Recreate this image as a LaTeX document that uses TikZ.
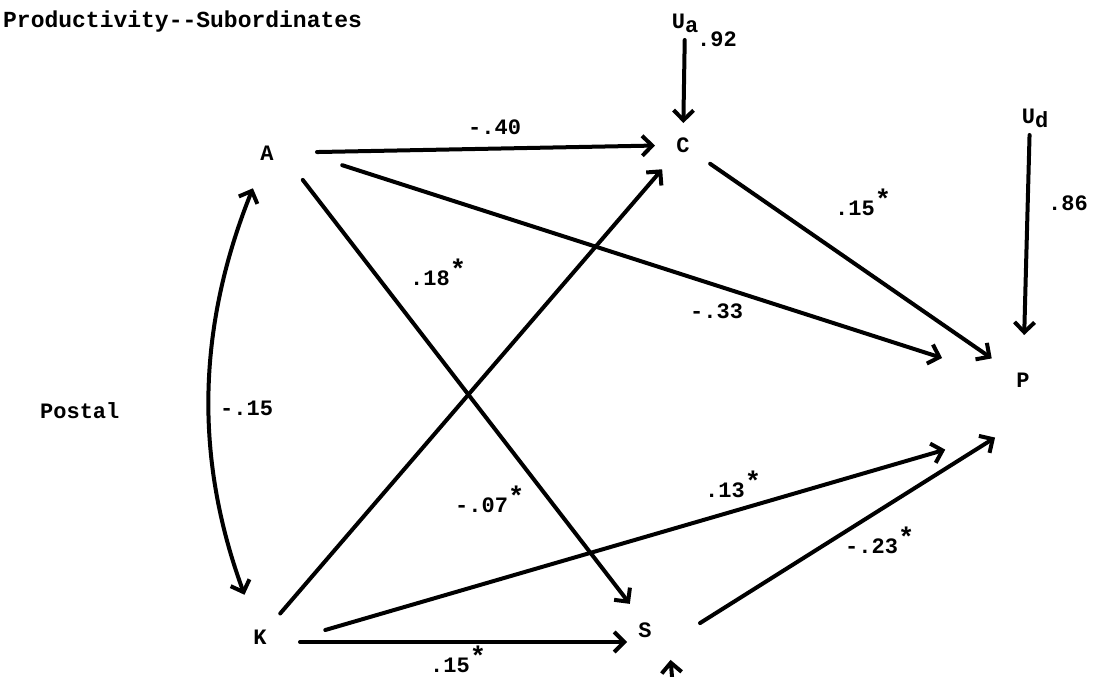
\documentclass[tikz,border=0pt]{standalone}
\usepackage{fontspec}
\setmonofont{Liberation Mono}
\usetikzlibrary{arrows.meta,calc}
\newcommand{\lblTitle}{Productivity--Subordinates}
\newcommand{\lblSample}{Postal}
\newcommand{\lblStar}{\raisebox{7pt}{\fontsize{27}{27}\selectfont*}}
\newcommand{\lblUa}{U\raisebox{-4pt}{a}}
\newcommand{\lblUd}{U\raisebox{-4pt}{d}}

\begin{document}
\begin{tikzpicture}[
  x=1pt, y=-1pt,
  font=\ttfamily\bfseries\fontsize{22}{24}\selectfont,
  >={Straight Barb[length=10pt,width=20pt]},
  var/.style  ={inner sep=0pt},
  edge/.style ={->, line width=4pt, line cap=round},
  wt/.style   ={anchor=base west, inner sep=0pt},
]
\clip (0,0) rectangle (1093,677);

% ---- header ----------------------------------------------------------------
\node[wt, font=\ttfamily\bfseries\fontsize{23}{25}\selectfont] (title) at (3,28) {\lblTitle};
\node[wt] (sample) at (40,418) {\lblSample};

% ---- variables -------------------------------------------------------------
\node[var] (A)  at (267,153)  {A};
\node[var] (C)  at (683,145)  {C};
\node[var] (P)  at (1023,380) {P};
\node[var] (K)  at (260,637)  {K};
\node[var] (S)  at (645,630)  {S};
\node[var] (Ua) at (685,23)   {\lblUa};
\node[var] (Ud) at (1035,118) {\lblUd};
\coordinate (us) at (674,700);   % residual of S, below the page

% ---- paths -----------------------------------------------------------------
\draw[edge, shorten <=50pt, shorten >=28pt] (A.center) -- (C.center);
\draw[edge, shorten <=79pt, shorten >=85pt] ([yshift=12pt]A.center) -- ([yshift=-4pt]P.center);
\draw[edge, shorten <=34pt, shorten >=33pt] ([xshift=15pt]A.center) -- ([xshift=5pt]S.center);
\draw[edge, shorten <=33pt, shorten >=38pt] (C.center) -- (P.center);
\draw[edge, shorten <=31pt, shorten >=32pt] (K.center) -- (C.center);
\draw[edge, shorten <=68pt, shorten >=81pt] ([yshift=-12pt]K.center) -- ([yshift=-47pt]P.center);
\draw[edge, shorten <=40pt, shorten >=18pt] ([yshift=-5pt]K.center) -- ([yshift=-12pt]S.center);
\draw[edge, shorten <=13pt, shorten >=33pt] ([xshift=44pt]S.center) -- ([yshift=-40pt]P.center);

% correlation between the two exogenous variables
\draw[edge, <->, shorten <=38pt, shorten >=45pt] (A.center) to[bend right=21] (K.center);

% residuals
\draw[edge, shorten <=17pt, shorten >=22pt] (Ua.center) -- (C.center);
\draw[edge, shorten <=17pt, shorten >=45pt] ([xshift=-5pt]Ud.center) -- (P.center);
\draw[edge, shorten >=30pt] (us) -- ([xshift=23pt]S.center);

% ---- weights ---------------------------------------------------------------
\node[wt] (wAC) at (468,135)  {-.40};
\node[wt] (wAS) at (410,285)  {.18\lblStar};
\node[wt] (wAP) at (690,318)  {-.33};
\node[wt] (wCP) at (835,215)  {.15\lblStar};
\node[wt] (wKC) at (455,512)  {-.07\lblStar};
\node[wt] (wKP) at (705,497)  {.13\lblStar};
\node[wt] (wSP) at (845,553)  {-.23\lblStar};
\node[wt] (wKS) at (430,672)  {.15\lblStar};
\node[wt] (wAK) at (220,415)  {-.15};
\node[wt] (wUa) at (697,47)   {.92};
\node[wt] (wUd) at (1048,210) {.86};

\end{tikzpicture}
\end{document}
